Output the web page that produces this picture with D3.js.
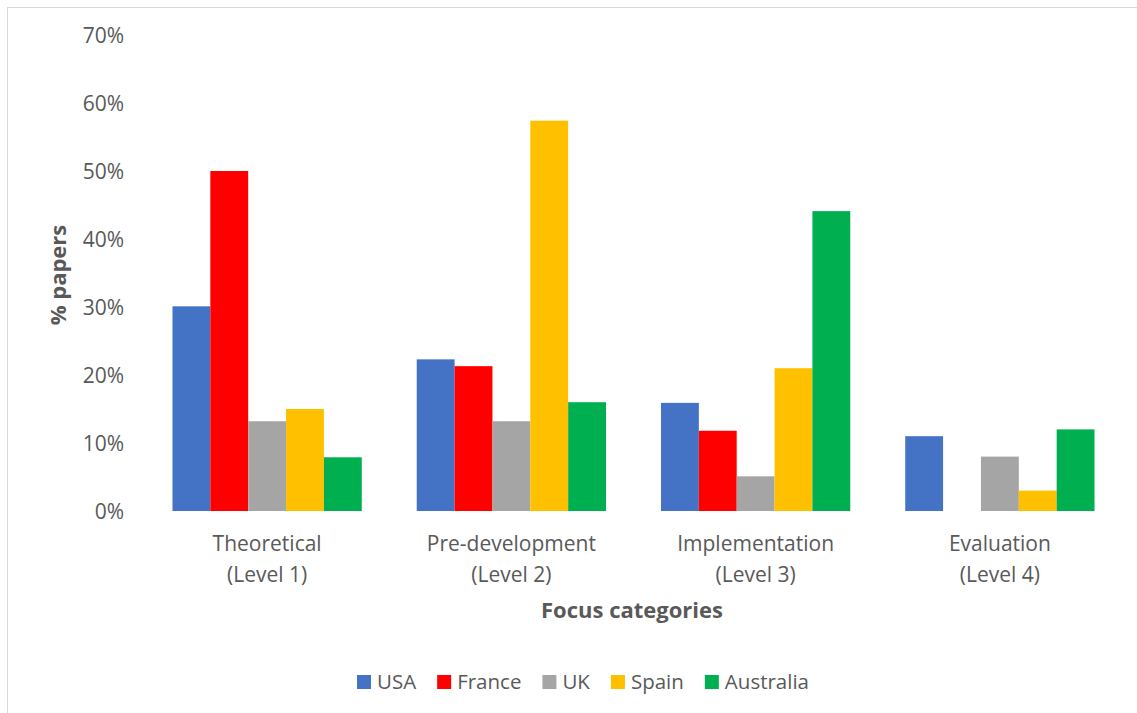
<!DOCTYPE html>
<html><head><meta charset="utf-8">
<script src="https://cdn.jsdelivr.net/npm/d3@7"></script>
<style>body{margin:0;background:#fff}svg{display:block}text{font-family:"Open Sans",sans-serif;fill:#595959}</style>
</head><body><svg id="c" width="1137" height="713"></svg>
<script>
const categories = [["Theoretical","(Level 1)"],["Pre-development","(Level 2)"],["Implementation","(Level 3)"],["Evaluation","(Level 4)"]];
const seriesNames = ["USA","France","UK","Spain","Australia"];
const seriesColors = ["#4472C4","#FF0000","#A5A5A5","#FFC000","#00B050"];
const USA = [0.301, 0.223, 0.159, 0.110];
const France = [0.500, 0.213, 0.118, 0];
const UK = [0.132, 0.132, 0.051, 0.080];
const Spain = [0.150, 0.574, 0.210, 0.030];
const Australia = [0.079, 0.160, 0.441, 0.120];
const yTicks = [0,0.1,0.2,0.3,0.4,0.5,0.6,0.7];
const values = [USA, France, UK, Spain, Australia];

const svg = d3.select("#c");
svg.append("rect").attr("x",7.5).attr("y",7.5).attr("width",1140).attr("height",720)
  .attr("fill","none").attr("stroke","#d9d9d9").attr("stroke-width",1);

const x0 = d3.scaleBand().domain(d3.range(categories.length)).range([145,1122]).paddingInner(0.225).paddingOuter(0.1125);
const x1 = d3.scaleBand().domain(d3.range(seriesNames.length)).range([0,x0.bandwidth()]);
const y = d3.scaleLinear().domain([0,0.7]).range([511,35]);

// y axis labels
const yAxis = svg.append("g").attr("transform","translate(124,0)")
  .call(d3.axisLeft(y).tickValues(yTicks).tickFormat(d3.format(".0%")).tickSize(0).tickPadding(0));
yAxis.select(".domain").remove();
yAxis.selectAll("text").style("font-size","21px").attr("fill","#595959").attr("dy","0.35em");

// bars
const g = svg.append("g");
categories.forEach((c,i)=>{
  seriesNames.forEach((s,j)=>{
    const v = values[j][i];
    if (v>0) g.append("rect").attr("x",x0(i)+x1(j)).attr("width",x1.bandwidth())
      .attr("y",y(v)).attr("height",y(0)-y(v)).attr("fill",seriesColors[j]);
  });
});

// category labels
const xAxis = svg.append("g");
categories.forEach((c,i)=>{
  const cx = x0(i)+x0.bandwidth()/2;
  const t = xAxis.append("text").attr("text-anchor","middle").style("font-size","21px");
  t.append("tspan").attr("x",cx).attr("y",551).text(c[0]);
  t.append("tspan").attr("x",cx).attr("y",582).text(c[1]);
});

svg.append("text").attr("x",632).attr("y",618).attr("text-anchor","middle")
  .style("font-size","22px").style("font-weight","bold").text("Focus categories");
svg.append("text").attr("transform","translate(66,275) rotate(-90)").attr("text-anchor","middle")
  .style("font-size","22px").style("font-weight","bold").text("% papers");

// legend
const leg = svg.append("g");
let lx = 357;
seriesNames.forEach((s,j)=>{
  leg.append("rect").attr("x",lx).attr("y",675).attr("width",14).attr("height",14).attr("fill",seriesColors[j]);
  const t = leg.append("text").attr("x",lx+20).attr("y",689).style("font-size","20.5px").text(s);
  lx = lx + 20 + t.node().getComputedTextLength() + 21;
});
</script></body></html>
